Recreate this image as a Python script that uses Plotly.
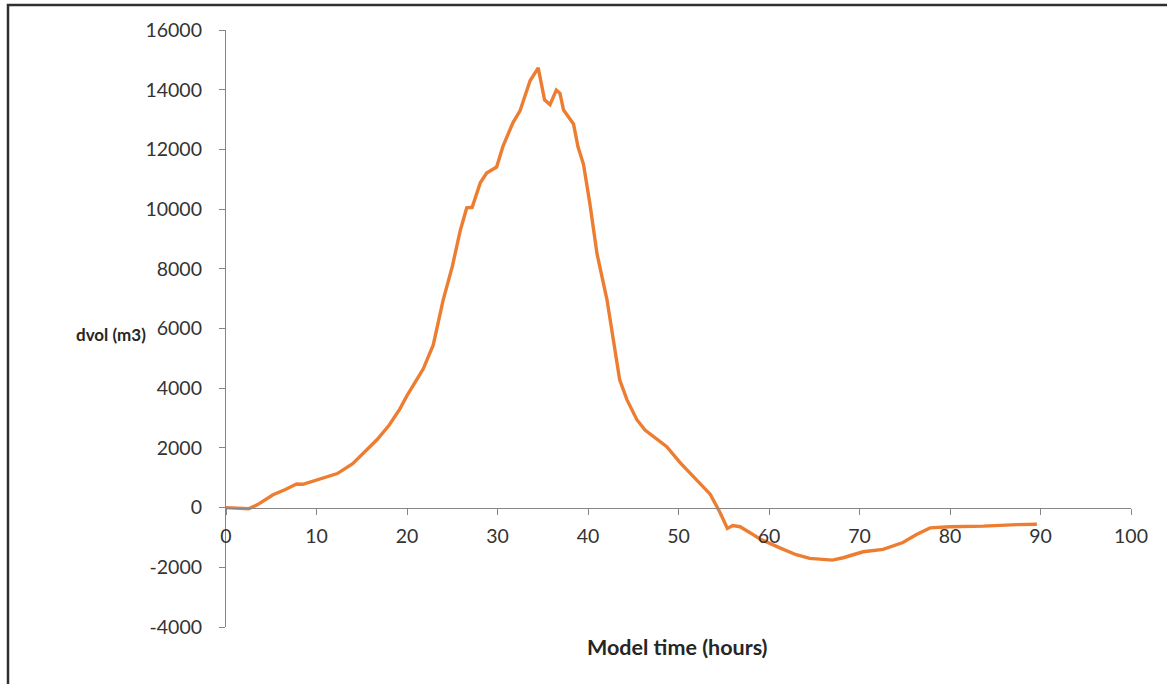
import plotly.graph_objects as go

# Data
time_hours = [0, 1.5, 2.5, 3.5, 5.2, 6.5, 7.8, 8.5, 10, 12.3, 14, 15.5, 16.7, 18,
              19.2, 20, 21, 21.8, 22.9, 24, 25, 25.9, 26.6, 27.2, 28.1, 28.8,
              29.9, 30.6, 31.7, 32.5, 33.6, 34.5, 35.2, 35.8, 36.5, 36.9, 37.3,
              38.4, 38.9, 39.5, 40.2, 40.6, 41, 42.1, 42.8, 43.5, 44.3, 45.4,
              46.3, 47.2, 48.7, 50.2, 52, 53.5, 54.6, 55.4, 56.0, 56.8, 57.9, 59,
              61.2, 63, 64.5, 66, 67, 68.2, 70.4, 72.6, 74.8, 76.3, 77.8, 80,
              83.7, 87.4, 89.6]
dvol_m3 = [0, -30, -40, 100, 430, 600, 790, 780, 920, 1140, 1470, 1900, 2280, 2750,
           3300, 3750, 4250, 4650, 5450, 6960, 8070, 9300, 10040, 10060, 10880,
           11210, 11410, 12100, 12890, 13300, 14300, 14730, 13660, 13500, 13990,
           13880, 13320, 12850, 12080, 11500, 10200, 9400, 8500, 6960, 5620, 4280,
           3615, 2945, 2600, 2380, 2040, 1500, 940, 450, -170, -700, -600, -640,
           -840, -1050, -1350, -1580, -1700, -1740, -1760, -1680, -1480, -1400,
           -1170, -900, -680, -640, -620, -570, -560]

x_ticks = [0, 10, 20, 30, 40, 50, 60, 70, 80, 90, 100]
y_ticks = [-4000, -2000, 0, 2000, 4000, 6000, 8000, 10000, 12000, 14000, 16000]

FONT = "Lato"
TICK_COLOR = "#333333"
AXIS_COLOR = "#868686"

fig = go.Figure()
fig.add_trace(go.Scatter(
    x=time_hours, y=dvol_m3, mode="lines",
    line=dict(color="#ED7D31", width=3.4),
    showlegend=False,
))

W, H = 1167, 684
ML, MR, MT, MB = 226, 36, 30, 57
plot_w = W - ML - MR
plot_h = H - MT - MB

fig.update_layout(
    width=W, height=H,
    margin=dict(l=ML, r=MR, t=MT, b=MB),
    paper_bgcolor="white", plot_bgcolor="white",
    font=dict(family=FONT, size=19, color=TICK_COLOR),
    xaxis=dict(
        range=[0, 100], tickvals=x_ticks, ticktext=[str(v) for v in x_ticks],
        showgrid=False, zeroline=False, showline=True, linecolor=AXIS_COLOR,
        linewidth=1.2, ticks="outside", ticklen=6, tickcolor=AXIS_COLOR,
        anchor="free", position=(0 - y_ticks[0]) / (y_ticks[-1] - y_ticks[0]),
        tickfont=dict(family=FONT, size=19.5, color=TICK_COLOR),
        ticklabelstandoff=5,
    ),
    yaxis=dict(
        range=[-4000, 16000], tickvals=y_ticks, ticktext=[str(v) for v in y_ticks],
        showgrid=False, zeroline=False, showline=True, linecolor=AXIS_COLOR,
        linewidth=1.2, ticks="outside", ticklen=6, tickcolor=AXIS_COLOR,
        tickfont=dict(family=FONT, size=19.5, color=TICK_COLOR),
        ticklabelstandoff=13,
    ),
)

# axis titles (Excel-like placement)
fig.add_annotation(
    text="<b>Model time (hours)</b>", xref="paper", yref="paper",
    x=(677 - ML) / plot_w, y=-(647 - (H - MB)) / plot_h,
    xanchor="center", yanchor="middle", showarrow=False,
    font=dict(family=FONT, size=21.5, color="#262626"),
)
fig.add_annotation(
    text="<b>dvol (m3)</b>", xref="paper", yref="paper",
    x=(111 - ML) / plot_w, y=((H - MB) - 334) / plot_h,
    xanchor="center", yanchor="middle", showarrow=False,
    font=dict(family=FONT, size=17, color="#262626"),
)

# chart frame (left / top edges)
def px_x(p):
    return (p - ML) / plot_w

def px_y(p):
    return ((H - MB) - p) / plot_h

fig.add_shape(type="rect", xref="paper", yref="paper",
              x0=px_x(8), x1=px_x(1180), y0=px_y(700), y1=px_y(5),
              line=dict(color="#303030", width=2.5), fillcolor="rgba(0,0,0,0)",
              layer="below")

fig.write_html("out.html", config={"displayModeBar": False},
               post_script="document.body.style.margin='0';document.body.style.overflow='hidden';")
